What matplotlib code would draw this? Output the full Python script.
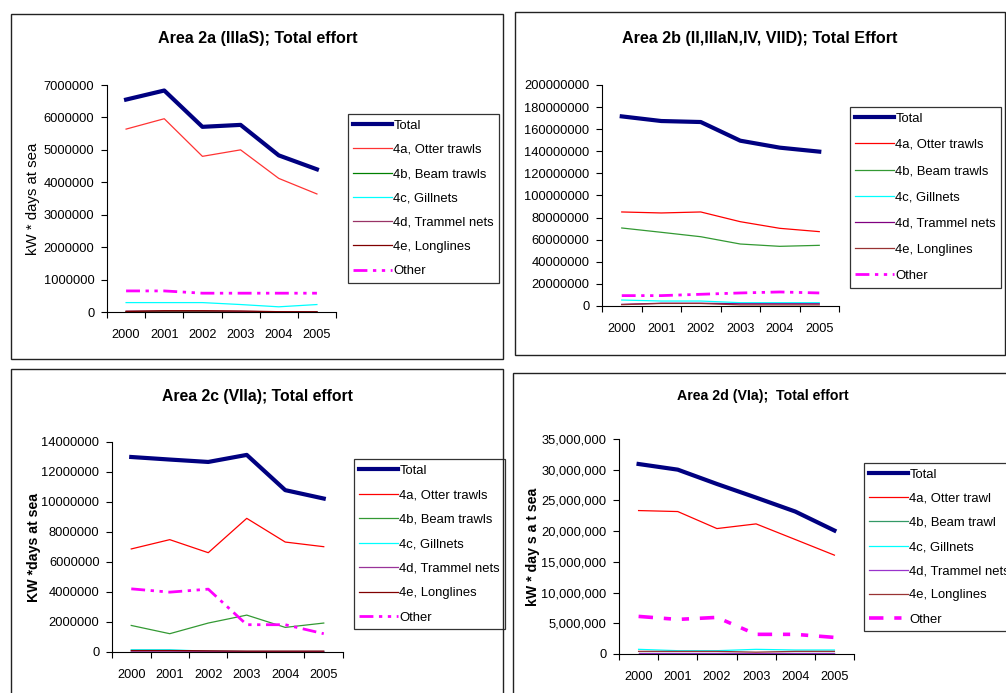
import matplotlib
matplotlib.use('Agg')
import matplotlib.pyplot as plt
from matplotlib.patches import Rectangle

plt.rcParams['font.family'] = ['Liberation Sans', 'DejaVu Sans']

years = ['2000', '2001', '2002', '2003', '2004', '2005']
series_names = ['Total', '4a, Otter trawls', '4b, Beam trawls', '4c, Gillnets',
                '4d, Trammel nets', '4e, Longlines', 'Other']
series_names_d = ['Total', '4a, Otter trawl', '4b, Beam trawl', '4c, Gillnets',
                  '4d, Trammel nets', '4e, Longlines', 'Other']

# Area 2a (IIIaS)
a_total = [6550000, 6830000, 5710000, 5770000, 4830000, 4400000]
a_otter = [5640000, 5960000, 4800000, 5000000, 4120000, 3640000]
a_beam = [10000, 20000, 20000, 10000, 5000, 5000]
a_gill = [290000, 290000, 290000, 230000, 160000, 230000]
a_tram = [30000, 30000, 30000, 20000, 5000, 5000]
a_long = [15000, 40000, 40000, 30000, 10000, 5000]
a_other = [650000, 650000, 580000, 580000, 580000, 580000]

# Area 2b (II, IIIaN, IV, VIID)
b_total = [171600000, 167400000, 166500000, 149600000, 143300000, 139700000]
b_otter = [85100000, 84200000, 85100000, 76300000, 70300000, 67300000]
b_beam = [70600000, 66700000, 62700000, 56100000, 54000000, 54900000]
b_gill = [5400000, 4500000, 4500000, 3000000, 3000000, 3000000]
b_tram = [1500000, 2500000, 2500000, 2000000, 2000000, 2000000]
b_long = [1200000, 2300000, 2300000, 1000000, 1000000, 1000000]
b_other = [9400000, 9400000, 10600000, 11800000, 12700000, 11800000]

# Area 2c (VIIa)
c_total = [13000000, 12830000, 12670000, 13140000, 10790000, 10230000]
c_otter = [6870000, 7490000, 6620000, 8910000, 7330000, 7020000]
c_beam = [1770000, 1220000, 1930000, 2460000, 1640000, 1930000]
c_gill = [150000, 150000, 50000, 30000, 30000, 30000]
c_tram = [50000, 50000, 40000, 30000, 30000, 30000]
c_long = [100000, 100000, 80000, 60000, 60000, 60000]
c_other = [4210000, 3990000, 4190000, 1820000, 1820000, 1220000]

# Area 2d (VIa)
d_total = [30930000, 30010000, 27680000, 25460000, 23190000, 20100000]
d_otter = [23350000, 23190000, 20420000, 21180000, 18640000, 16090000]
d_beam = [200000, 200000, 200000, 200000, 200000, 200000]
d_gill = [760000, 540000, 540000, 760000, 650000, 650000]
d_tram = [100000, 100000, 100000, 100000, 100000, 100000]
d_long = [430000, 430000, 430000, 300000, 430000, 430000]
d_other = [6120000, 5630000, 5960000, 3200000, 3200000, 2700000]

W, H = 1006, 693
fig = plt.figure(figsize=(W / 100, H / 100), dpi=100)


def px_axes(l, t, r, b):
    return fig.add_axes([l / W, 1 - b / H, (r - l) / W, (b - t) / H])


def frame(l, t, r, b):
    fig.add_artist(Rectangle((l / W, 1 - b / H), (r - l) / W, (b - t) / H,
                             transform=fig.transFigure, fill=False,
                             edgecolor='#222222', linewidth=1.0))


def panel(box, ax_box, leg_pos, title, title_xy, title_size, data, names, colors,
          ymax, ystep, ylabel, ylabel_x, ylabel_bold, ylabel_size,
          leg_spacing=0.87, comma=False, other_style=None, other_lw=2.0):
    frame(*box)
    ax = px_axes(*ax_box)
    x = range(len(years))
    lines = []
    widths = [3.0, 0.9, 0.9, 0.9, 0.9, 0.9, other_lw]
    for i, (vals, col) in enumerate(zip(data, colors)):
        ls = '-'
        if i == 6:
            ls = other_style
        ln, = ax.plot(x, vals, color=col, linewidth=widths[i], linestyle=ls)
        lines.append(ln)
    ax.set_xlim(-0.5, 5.5)
    ax.set_ylim(0, ymax)
    ax.set_xticks([i - 0.5 for i in range(7)])
    ax.set_xticklabels([])
    ax.set_xticks(list(x), minor=True)
    ax.set_xticklabels(years, minor=True, fontsize=9.2)
    ax.tick_params(axis='x', which='major', direction='out', length=4, width=0.8)
    ax.tick_params(axis='x', which='minor', length=0, pad=12)
    yt = list(range(0, ymax + 1, ystep))
    ax.set_yticks(yt)
    if comma:
        ax.set_yticklabels(['{:,}'.format(v) for v in yt], fontsize=9.3)
    else:
        ax.set_yticklabels([str(v) for v in yt], fontsize=9.3)
    ax.tick_params(axis='y', direction='out', length=4, width=0.8, pad=5)
    for s in ['top', 'right']:
        ax.spines[s].set_visible(False)
    for s in ['left', 'bottom']:
        ax.spines[s].set_linewidth(0.8)
    fig.text(title_xy[0] / W, 1 - title_xy[1] / H, title, ha='center',
             va='center', fontsize=title_size, fontweight='bold')
    fig.text(ylabel_x / W, 1 - (ax_box[1] + ax_box[3]) / 2 / H, ylabel,
             rotation=90, ha='center', va='center', fontsize=ylabel_size,
             fontweight='bold' if ylabel_bold else 'normal')
    leg = ax.legend(lines, names, loc='upper left',
                    bbox_to_anchor=(leg_pos[0] / W, 1 - leg_pos[1] / H),
                    bbox_transform=fig.transFigure, fontsize=9.4,
                    frameon=True, fancybox=False, handlelength=2.95,
                    handletextpad=0.1, labelspacing=leg_spacing, borderpad=0.42,
                    borderaxespad=0)
    leg.get_frame().set_edgecolor('black')
    leg.get_frame().set_linewidth(0.9)
    return ax


dashdot = (0, (5, 2, 1.2, 2, 1.2, 2))

panel((11, 14, 503, 359), (107, 85, 336, 312), (348, 114),
      'Area 2a (IIIaS); Total effort', (258, 39), 11.6,
      [a_total, a_otter, a_beam, a_gill, a_tram, a_long, a_other], series_names,
      ['#000080', '#ff3333', '#008000', '#00ffff', '#993366', '#800000', '#ff00ff'],
      7000000, 1000000, 'kW * days at sea', 33, False, 10.8,
      leg_spacing=0.93, other_style=dashdot)

panel((515, 12, 1005, 355), (602, 85, 839, 306), (850, 107),
      'Area 2b (II,IIIaN,IV, VIID); Total Effort', (760, 38), 11.6,
      [b_total, b_otter, b_beam, b_gill, b_tram, b_long, b_other], series_names,
      ['#000080', '#ff0000', '#339933', '#00ffff', '#800080', '#993333', '#ff00ff'],
      200000000, 20000000, '', 520, False, 10,
      leg_spacing=1.08, other_style=dashdot)

panel((11, 369, 503, 720), (112, 442, 343, 652), (354, 459),
      'Area 2c (VIIa); Total effort', (258, 396), 11.3,
      [c_total, c_otter, c_beam, c_gill, c_tram, c_long, c_other], series_names,
      ['#000080', '#ff0000', '#339933', '#00ffff', '#993399', '#800000', '#ff00ff'],
      14000000, 2000000, 'KW *days at sea', 34, True, 10.2,
      leg_spacing=0.95, other_style=dashdot)

panel((513, 373, 1030, 720), (619, 439, 854, 654), (864, 463),
      'Area 2d (VIa);  Total effort', (763, 396), 10.2,
      [d_total, d_otter, d_beam, d_gill, d_tram, d_long, d_other], series_names_d,
      ['#000080', '#ff0000', '#339966', '#00ffff', '#9933cc', '#993333', '#ff00ff'],
      35000000, 5000000, 'kW * day s a t sea', 533, True, 10.2,
      leg_spacing=0.92, comma=True,
      other_style=(0, (4, 3, 2, 3, 2, 3)), other_lw=2.6)

fig.savefig('out.png', dpi=100)
